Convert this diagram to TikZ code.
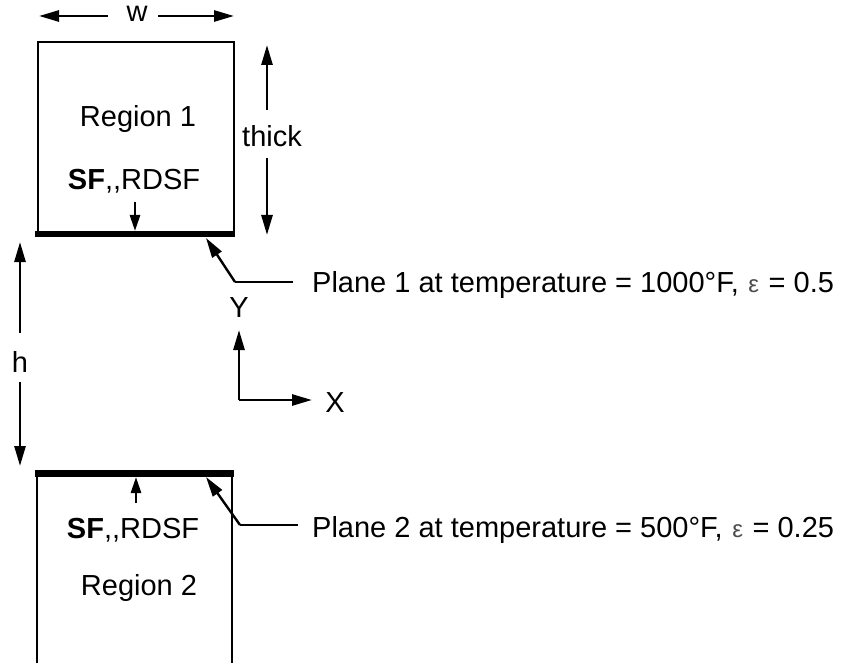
\documentclass[tikz,border=0pt]{standalone}
\usepackage{fontspec}
\setmainfont[Ligatures=NoCommon]{Liberation Sans}
\usetikzlibrary{arrows.meta}
\newcommand{\epsym}{\hspace{1.5pt}{\fontsize{24}{26}\selectfont\color{black!70}ε}\hspace{1.5pt}}
\begin{document}
\begin{tikzpicture}[x=1pt,y=-1pt,
  lbl/.style={inner sep=0pt,font=\fontsize{29}{31}\selectfont,anchor=base},
  wall/.style={line width=2.3pt,line cap=rect},
  plane/.style={line width=6.5pt},
  arr/.style={line width=2.7pt,-{Triangle[length=20pt,width=11pt]}},
  lead/.style={line width=2.4pt}]
\useasboundingbox (0,0) rectangle (843,663);
% Region 1 box
\coordinate (b1tl) at (38,42);
\coordinate (b1br) at (234,234);
\draw[wall] (b1tl) rectangle (b1br);
\coordinate (p1a) at (35,234);
\coordinate (p1b) at (235,234);
\draw[plane] (p1a) -- (p1b);
% Region 2 box
\coordinate (b2bl) at (37,663);
\coordinate (b2tl) at (37,473);
\coordinate (b2tr) at (232,473);
\coordinate (b2br) at (232,663);
\draw[wall] (b2bl) -- (b2tl) -- (b2tr) -- (b2br);
\coordinate (p2a) at (35,473.5);
\coordinate (p2b) at (234,473.5);
\draw[plane] (p2a) -- (p2b);
% labels
\node[lbl] (w) at (137,22) {w};
\node[lbl] (thick) at (272,147) {thick};
\node[lbl] (r1) at (138,127) {Region 1};
\node[lbl] (sf1) at (134,190) {\textbf{SF}{,}{,}RDSF};
\node[lbl] (h) at (20,372) {h};
\node[lbl] (Y) at (239,317) {Y};
\node[lbl] (X) at (335,412) {X};
\node[lbl,anchor=base west] (pl1) at (312,292) {Plane 1 at temperature = 1000°F, \epsym{} = 0.5};
\node[lbl,anchor=base west] (pl2) at (312,537) {Plane 2 at temperature = 500°F, \epsym{} = 0.25};
\node[lbl] (sf2) at (133,538) {\textbf{SF}{,}{,}RDSF};
\node[lbl] (r2) at (139,595) {Region 2};
% w dimension
\coordinate (wl0) at (108,16); \coordinate (wl1) at (39,16);
\coordinate (wr0) at (158,16); \coordinate (wr1) at (234,16);
\draw[arr] (wl0) -- (wl1);
\draw[arr] (wr0) -- (wr1);
% thick dimension
\coordinate (tk0) at (267,110); \coordinate (tk1) at (267,45);
\coordinate (tk2) at (267,158); \coordinate (tk3) at (267,235);
\draw[arr] (tk0) -- (tk1);
\draw[arr] (tk2) -- (tk3);
% h dimension
\coordinate (h0) at (20,333); \coordinate (h1) at (20,242);
\coordinate (h2) at (20,382); \coordinate (h3) at (20,466);
\draw[arr] (h0) -- (h1);
\draw[arr] (h2) -- (h3);
% axes
\coordinate (o) at (239,400);
\coordinate (ytip) at (239,330);
\coordinate (xtip) at (312,400);
\draw[arr] (o) -- (ytip);
\draw[arr] (o) -- (xtip);
% SF arrows
\coordinate (s1a) at (135,202); \coordinate (s1b) at (135,231);
\draw[arr,-{Triangle[length=16pt,width=10pt]}] (s1a) -- (s1b);
\coordinate (s2a) at (136,503); \coordinate (s2b) at (136,477);
\draw[arr,-{Triangle[length=16pt,width=10pt]}] (s2a) -- (s2b);
% leaders
\coordinate (l1e) at (293,282); \coordinate (l1k) at (235,282); \coordinate (l1t) at (206,238);
\draw[lead] (l1e) -- (l1k);
\draw[arr,line width=2.4pt] (l1k) -- (l1t);
\coordinate (l2e) at (298,525); \coordinate (l2k) at (240,525); \coordinate (l2t) at (206,477);
\draw[lead] (l2e) -- (l2k);
\draw[arr,line width=2.4pt] (l2k) -- (l2t);
\end{tikzpicture}
\end{document}
